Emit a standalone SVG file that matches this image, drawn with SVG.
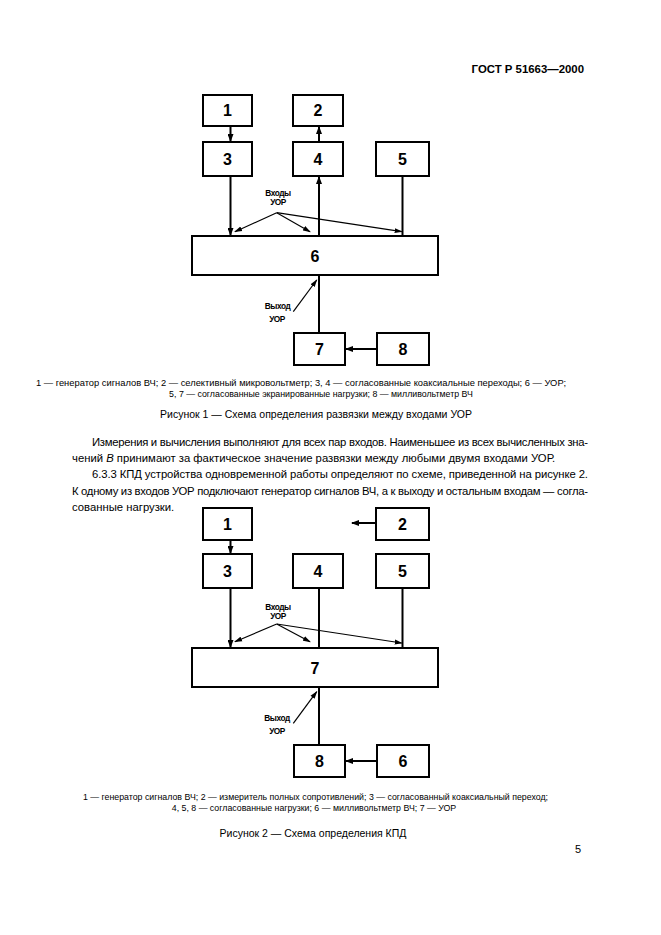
<svg xmlns="http://www.w3.org/2000/svg" width="661" height="935" viewBox="0 0 661 935">
<style>
.box{fill:#fff;stroke:#000;stroke-width:2}
.num{font-family:"Liberation Sans",Arial,sans-serif;font-weight:bold;font-size:16px;text-anchor:middle;dominant-baseline:central}
.ln{stroke:#000;stroke-width:2;fill:none}
.thin{stroke:#000;stroke-width:1.2;fill:none}
.lbl{font-family:"Liberation Sans",Arial,sans-serif;font-weight:bold;font-size:8.3px;text-anchor:middle;letter-spacing:-0.4px}
.cap{font-family:"Liberation Sans",Arial,sans-serif;font-size:8.8px;fill:#000}
.fig{font-family:"Liberation Sans",Arial,sans-serif;font-size:10.5px;text-anchor:middle}
.body{font-family:"Liberation Sans",Arial,sans-serif;font-size:11.3px}
</style>
<defs>
<marker id="ah" markerUnits="userSpaceOnUse" markerWidth="8" markerHeight="6" refX="7" refY="3" orient="auto"><path d="M0,0 L8,3 L0,6 z" fill="#000"/></marker>
<marker id="ahs" markerUnits="userSpaceOnUse" markerWidth="8" markerHeight="6" refX="7" refY="3" orient="auto"><path d="M0,0.5 L8,3 L0,5.5 z" fill="#000"/></marker>
</defs>
<rect width="661" height="935" fill="#fff"/>
<text x="584" y="73" font-family="'Liberation Sans',Arial,sans-serif" font-weight="bold" font-size="11.4" text-anchor="end">ГОСТ Р 51663—2000</text>

<!-- Figure 1 -->
<g id="fig1">
<g id="f1n1"><rect class="box" x="203" y="95" width="49" height="31"/><text class="num" x="227.5" y="110.5">1</text></g>
<g id="f1n2"><rect class="box" x="293" y="95" width="50" height="31"/><text class="num" x="318" y="110.5">2</text></g>
<g id="f1n3"><rect class="box" x="203" y="142" width="49" height="34"/><text class="num" x="227.5" y="159">3</text></g>
<g id="f1n4"><rect class="box" x="293" y="142" width="50" height="34"/><text class="num" x="318" y="159">4</text></g>
<g id="f1n5"><rect class="box" x="376" y="142" width="53" height="34"/><text class="num" x="402.5" y="159">5</text></g>
<g id="f1n6"><rect class="box" x="192" y="236" width="246" height="39"/><text class="num" x="315" y="256">6</text></g>
<g id="f1n7"><rect class="box" x="294" y="333" width="51" height="32"/><text class="num" x="319.5" y="349">7</text></g>
<g id="f1n8"><rect class="box" x="377" y="333" width="52" height="32"/><text class="num" x="403" y="349">8</text></g>
<g id="f1conn">
<line class="ln" x1="230.5" y1="126" x2="230.5" y2="141" marker-end="url(#ah)"/>
<line class="ln" x1="319" y1="142" x2="319" y2="127" marker-end="url(#ah)"/>
<line class="ln" x1="230.5" y1="176" x2="230.5" y2="235" marker-end="url(#ah)"/>
<line class="ln" x1="319" y1="236" x2="319" y2="177" stroke-width="2.5" marker-end="url(#ah)"/>
<line class="ln" x1="402.5" y1="176" x2="402.5" y2="236"/>
<line class="ln" x1="319" y1="275" x2="319" y2="333" stroke-width="2.5"/>
<line class="ln" x1="377" y1="349" x2="346" y2="349" marker-end="url(#ah)"/>
<line class="thin" x1="276.7" y1="212.7" x2="235" y2="231.7" marker-end="url(#ahs)"/>
<line class="thin" x1="276.7" y1="212.7" x2="310" y2="231.7" marker-end="url(#ahs)"/>
<line class="thin" x1="276.7" y1="212.7" x2="401.7" y2="231.7" marker-end="url(#ahs)"/>
<line class="thin" x1="293.3" y1="311.7" x2="316.7" y2="280" marker-end="url(#ahs)"/>
</g>
<text class="lbl" x="278" y="196">Входы</text>
<text class="lbl" x="278" y="205">УОР</text>
<text class="lbl" x="277.5" y="309">Выход</text>
<text class="lbl" x="277" y="322">УОР</text>
</g>

<text class="cap" x="36" y="386" textLength="530" lengthAdjust="spacingAndGlyphs">1 — генератор сигналов ВЧ; 2 — селективный микровольтметр; 3, 4 — согласованные коаксиальные переходы; 6 — УОР;</text>
<text class="cap" x="321" y="397" text-anchor="middle">5, 7 — согласованные экранированные нагрузки; 8 — милливольтметр ВЧ</text>
<text class="fig" x="316" y="418">Рисунок 1 — Схема определения развязки между входами УОР</text>

<text class="body" x="92" y="445.5" textLength="496" lengthAdjust="spacing">Измерения и вычисления выполняют для всех пар входов. Наименьшее из всех вычисленных зна-</text>
<text class="body" x="72" y="461.5">чений <tspan font-style="italic">В</tspan> принимают за фактическое значение развязки между любыми двумя входами УОР.</text>
<text class="body" x="92" y="478" textLength="496" lengthAdjust="spacing">6.3.3 КПД устройства одновременной работы определяют по схеме, приведенной на рисунке 2.</text>
<text class="body" x="72" y="494.5" textLength="516" lengthAdjust="spacing">К одному из входов УОР подключают генератор сигналов ВЧ, а к выходу и остальным входам — согла-</text>
<text class="body" x="72" y="510.5">сованные нагрузки.</text>

<!-- Figure 2 -->
<g id="fig2" transform="translate(0,412)">
<g id="f2n1"><rect class="box" x="203" y="96" width="49" height="32"/><text class="num" x="227.5" y="112">1</text></g>
<g id="f2n2"><rect class="box" x="376" y="96" width="53" height="32"/><text class="num" x="402.5" y="112">2</text></g>
<g id="f2n3"><rect class="box" x="203" y="142" width="49" height="34"/><text class="num" x="227.5" y="159">3</text></g>
<g id="f2n4"><rect class="box" x="293" y="142" width="50" height="34"/><text class="num" x="318" y="159">4</text></g>
<g id="f2n5"><rect class="box" x="376" y="142" width="53" height="34"/><text class="num" x="402.5" y="159">5</text></g>
<g id="f2n7"><rect class="box" x="192" y="236" width="246" height="39"/><text class="num" x="315" y="256">7</text></g>
<g id="f2n8"><rect class="box" x="294" y="333" width="51" height="32"/><text class="num" x="319.5" y="349">8</text></g>
<g id="f2n6"><rect class="box" x="377" y="333" width="52" height="32"/><text class="num" x="403" y="349">6</text></g>
<g id="f2conn">
<line class="ln" x1="230.5" y1="128" x2="230.5" y2="141" marker-end="url(#ah)"/>
<line class="ln" x1="376" y1="111" x2="352" y2="111" marker-end="url(#ah)"/>
<line class="ln" x1="230.5" y1="176" x2="230.5" y2="235" marker-end="url(#ah)"/>
<line class="ln" x1="319" y1="176" x2="319" y2="236"/>
<line class="ln" x1="402.5" y1="176" x2="402.5" y2="236"/>
<line class="ln" x1="319" y1="275" x2="319" y2="333" stroke-width="2.5"/>
<line class="ln" x1="377" y1="349" x2="346" y2="349" marker-end="url(#ah)"/>
<line class="thin" x1="276.7" y1="212" x2="235" y2="229.7" marker-end="url(#ahs)"/>
<line class="thin" x1="276.7" y1="212" x2="310" y2="229.7" marker-end="url(#ahs)"/>
<line class="thin" x1="276.7" y1="212" x2="401.7" y2="231" marker-end="url(#ahs)"/>
<line class="thin" x1="293.3" y1="311.3" x2="316.7" y2="279.7" marker-end="url(#ahs)"/>
</g>
<text class="lbl" x="278" y="197.5">Входы</text>
<text class="lbl" x="278" y="207">УОР</text>
<text class="lbl" x="277" y="309">Выход</text>
<text class="lbl" x="277" y="321.5">УОР</text>
</g>

<text class="cap" x="83" y="800" textLength="465" lengthAdjust="spacingAndGlyphs">1 — генератор сигналов ВЧ; 2 — измеритель полных сопротивлений; 3 — согласованный коаксиальный переход;</text>
<text class="cap" x="314" y="811" text-anchor="middle">4, 5, 8 — согласованные нагрузки; 6 — милливольтметр ВЧ; 7 — УОР</text>
<text class="fig" x="313" y="837">Рисунок 2 — Схема определения КПД</text>
<text x="581" y="853" font-family="'Liberation Sans',Arial,sans-serif" font-size="11" text-anchor="end">5</text>
</svg>
